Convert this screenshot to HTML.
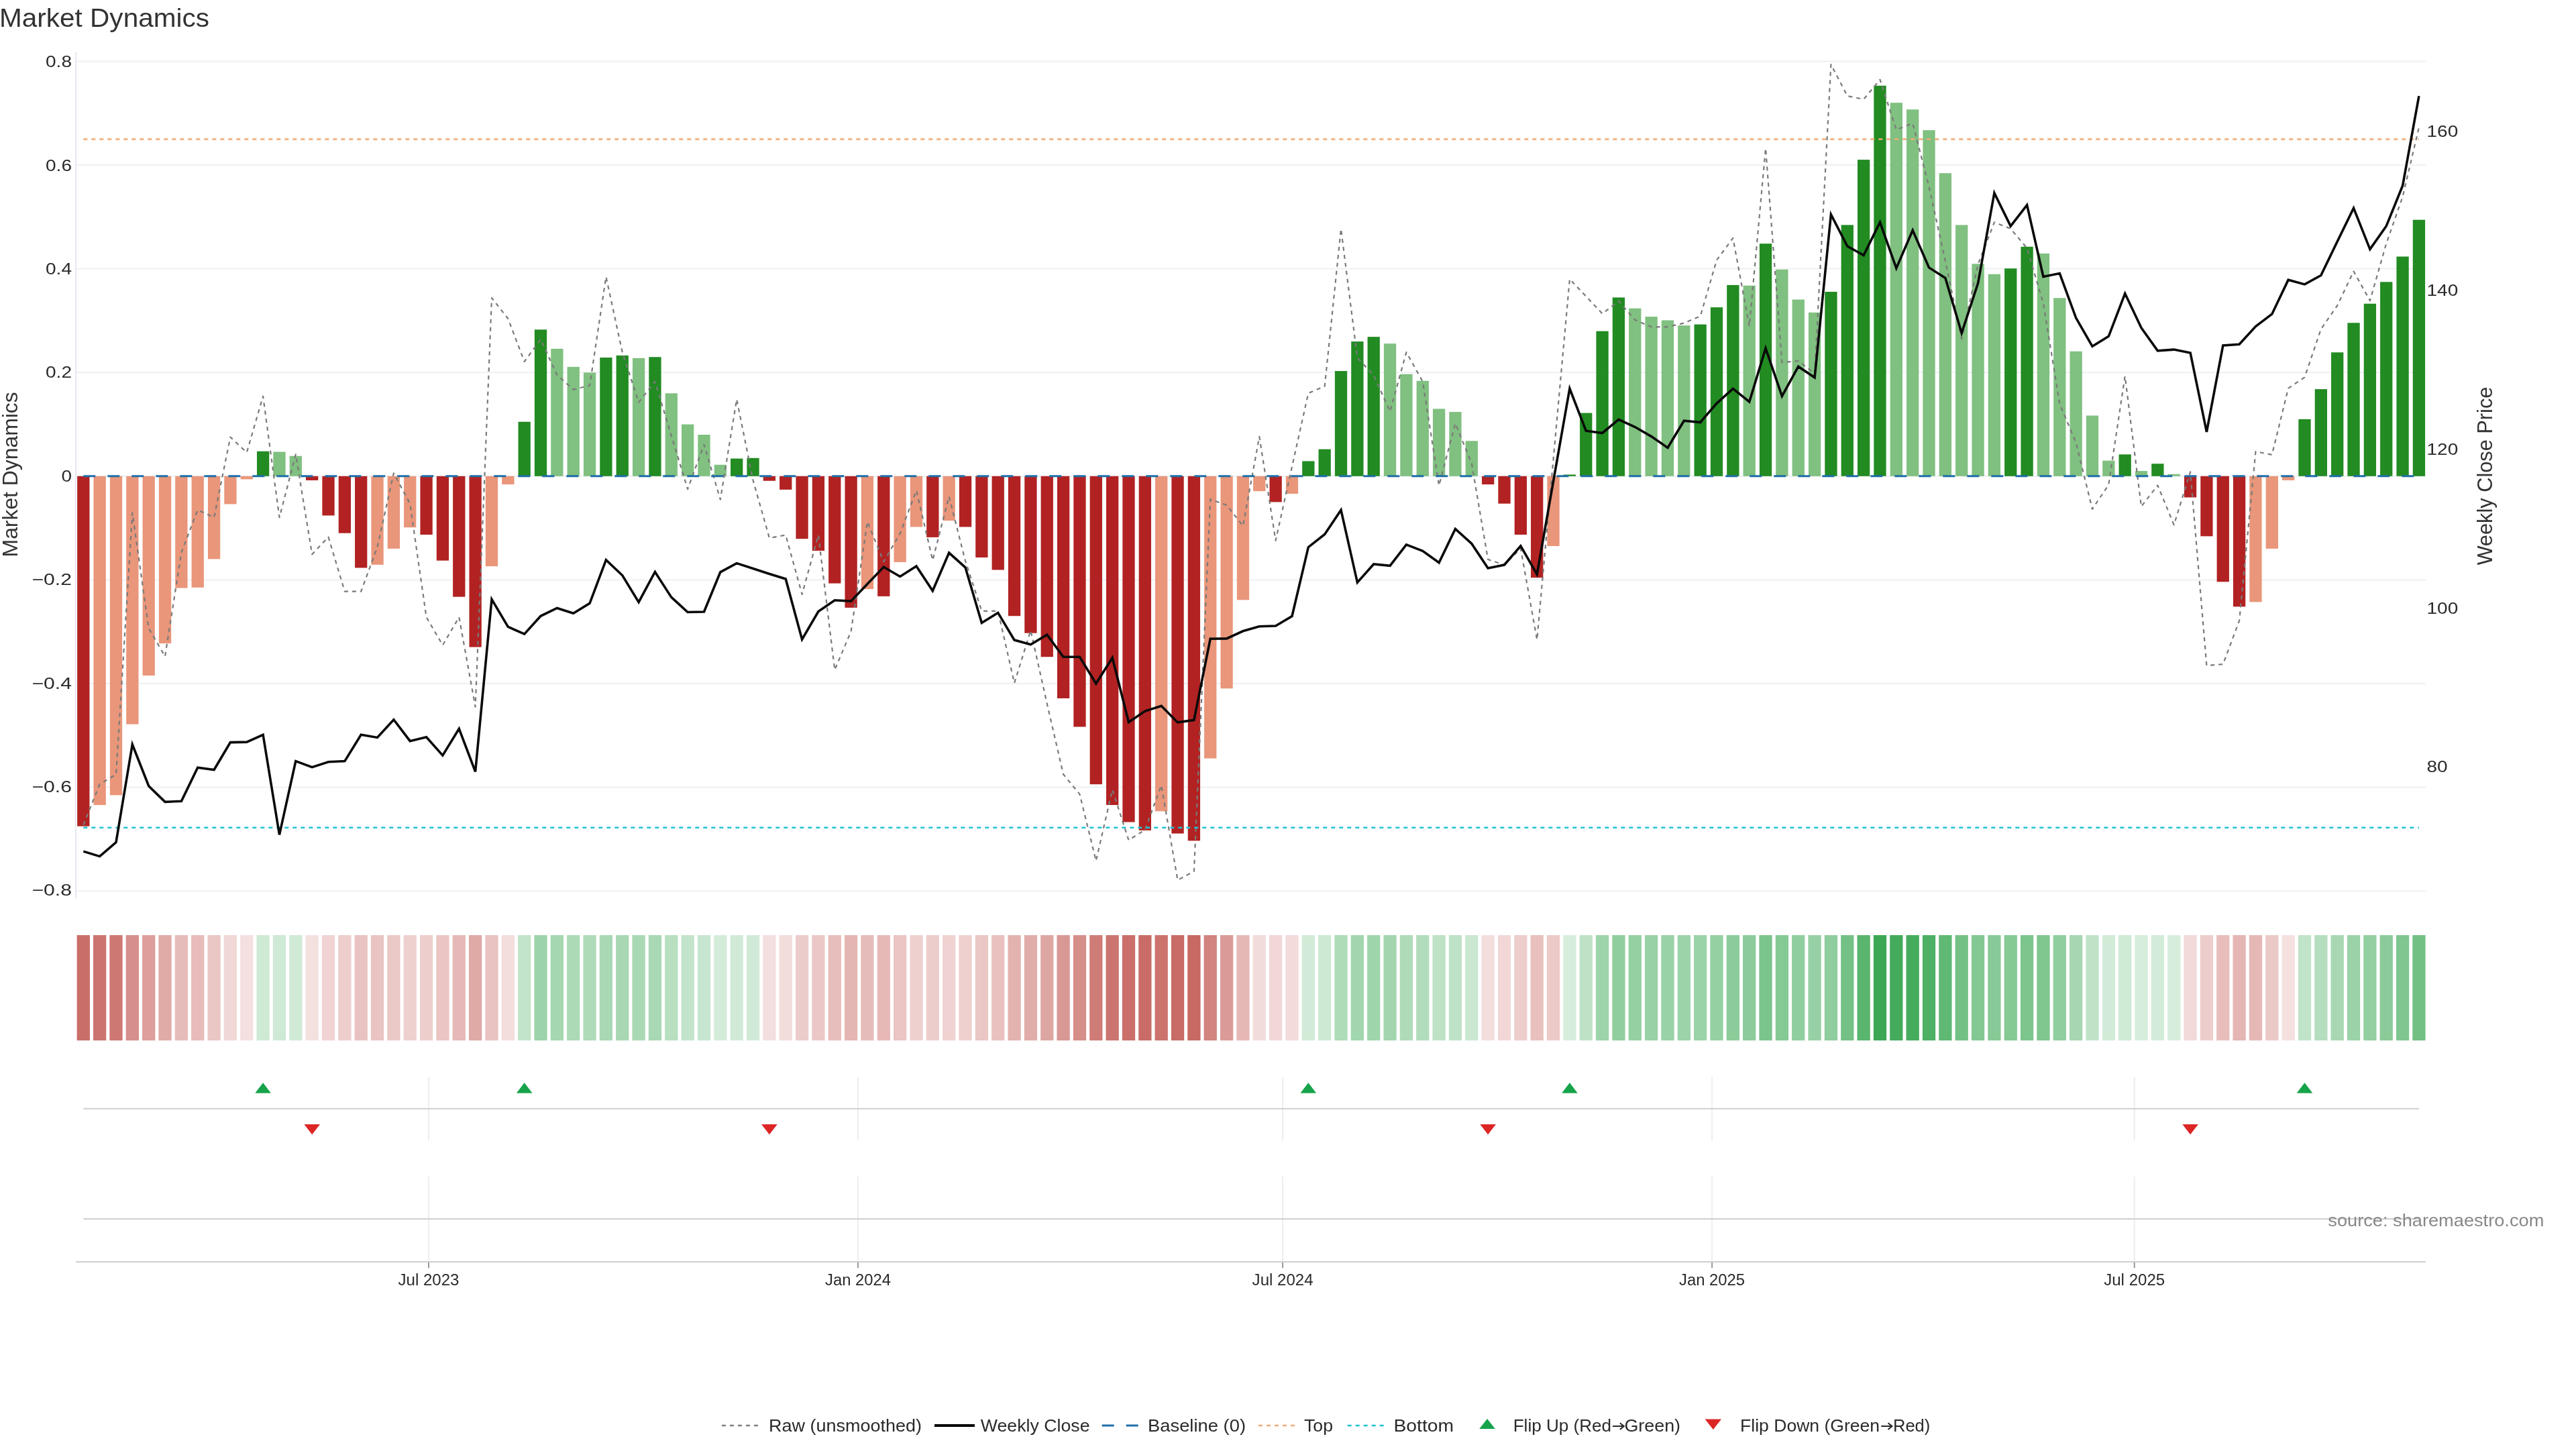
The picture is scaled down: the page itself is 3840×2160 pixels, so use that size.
<!DOCTYPE html><html><head><meta charset="utf-8"><title>Market Dynamics</title><style>html,body{margin:0;padding:0;background:#fff;}body{width:3840px;height:2160px;overflow:hidden;}svg{display:block;will-change:transform;}text{font-family:"Liberation Sans",sans-serif;}</style></head><body>
<svg width="3840" height="2160" viewBox="0 0 3840 2160">
<rect width="3840" height="2160" fill="#fff"/>
<line x1="113" x2="3616" y1="91.4" y2="91.4" stroke="#edf0f4" stroke-width="2"/>
<line x1="113" x2="3616" y1="246.0" y2="246.0" stroke="#edf0f4" stroke-width="2"/>
<line x1="113" x2="3616" y1="400.6" y2="400.6" stroke="#edf0f4" stroke-width="2"/>
<line x1="113" x2="3616" y1="555.2" y2="555.2" stroke="#edf0f4" stroke-width="2"/>
<line x1="113" x2="3616" y1="709.8" y2="709.8" stroke="#edf0f4" stroke-width="2"/>
<line x1="113" x2="3616" y1="864.4" y2="864.4" stroke="#edf0f4" stroke-width="2"/>
<line x1="113" x2="3616" y1="1019.0" y2="1019.0" stroke="#edf0f4" stroke-width="2"/>
<line x1="113" x2="3616" y1="1173.6" y2="1173.6" stroke="#edf0f4" stroke-width="2"/>
<line x1="113" x2="3616" y1="1328.2" y2="1328.2" stroke="#edf0f4" stroke-width="2"/>
<line x1="113" x2="113" y1="78" y2="1340" stroke="#e8e8f0" stroke-width="2"/>
<rect x="115.15" y="709.80" width="18.3" height="521.87" fill="#b22222"/>
<rect x="139.50" y="709.80" width="18.3" height="490.22" fill="#e9967a"/>
<rect x="163.84" y="709.80" width="18.3" height="475.55" fill="#e9967a"/>
<rect x="188.19" y="709.80" width="18.3" height="369.79" fill="#e9967a"/>
<rect x="212.54" y="709.80" width="18.3" height="297.22" fill="#e9967a"/>
<rect x="236.89" y="709.80" width="18.3" height="249.36" fill="#e9967a"/>
<rect x="261.23" y="709.80" width="18.3" height="166.75" fill="#e9967a"/>
<rect x="285.58" y="709.80" width="18.3" height="165.98" fill="#e9967a"/>
<rect x="309.93" y="709.80" width="18.3" height="123.52" fill="#e9967a"/>
<rect x="334.27" y="709.80" width="18.3" height="41.69" fill="#e9967a"/>
<rect x="358.62" y="709.80" width="18.3" height="4.63" fill="#e9967a"/>
<rect x="382.97" y="672.74" width="18.3" height="37.06" fill="#228b22"/>
<rect x="407.31" y="673.52" width="18.3" height="36.28" fill="#80c080"/>
<rect x="431.66" y="679.69" width="18.3" height="30.11" fill="#80c080"/>
<rect x="456.01" y="709.80" width="18.3" height="6.18" fill="#b22222"/>
<rect x="480.36" y="709.80" width="18.3" height="58.67" fill="#b22222"/>
<rect x="504.70" y="709.80" width="18.3" height="84.92" fill="#b22222"/>
<rect x="529.05" y="709.80" width="18.3" height="136.64" fill="#b22222"/>
<rect x="553.40" y="709.80" width="18.3" height="132.01" fill="#e9967a"/>
<rect x="577.74" y="709.80" width="18.3" height="108.08" fill="#e9967a"/>
<rect x="602.09" y="709.80" width="18.3" height="76.43" fill="#e9967a"/>
<rect x="626.44" y="709.80" width="18.3" height="87.24" fill="#b22222"/>
<rect x="650.78" y="709.80" width="18.3" height="125.84" fill="#b22222"/>
<rect x="675.13" y="709.80" width="18.3" height="179.88" fill="#b22222"/>
<rect x="699.48" y="709.80" width="18.3" height="254.76" fill="#b22222"/>
<rect x="723.83" y="709.80" width="18.3" height="134.33" fill="#e9967a"/>
<rect x="748.17" y="709.80" width="18.3" height="12.35" fill="#e9967a"/>
<rect x="772.52" y="628.74" width="18.3" height="81.06" fill="#228b22"/>
<rect x="796.87" y="491.32" width="18.3" height="218.48" fill="#228b22"/>
<rect x="821.21" y="519.89" width="18.3" height="189.91" fill="#80c080"/>
<rect x="845.56" y="546.91" width="18.3" height="162.89" fill="#80c080"/>
<rect x="869.91" y="555.40" width="18.3" height="154.40" fill="#80c080"/>
<rect x="894.25" y="533.01" width="18.3" height="176.79" fill="#228b22"/>
<rect x="918.60" y="529.92" width="18.3" height="179.88" fill="#228b22"/>
<rect x="942.95" y="533.78" width="18.3" height="176.02" fill="#80c080"/>
<rect x="967.30" y="532.24" width="18.3" height="177.56" fill="#228b22"/>
<rect x="991.64" y="586.28" width="18.3" height="123.52" fill="#80c080"/>
<rect x="1015.99" y="632.60" width="18.3" height="77.20" fill="#80c080"/>
<rect x="1040.34" y="648.04" width="18.3" height="61.76" fill="#80c080"/>
<rect x="1064.68" y="692.82" width="18.3" height="16.98" fill="#80c080"/>
<rect x="1089.03" y="683.55" width="18.3" height="26.25" fill="#228b22"/>
<rect x="1113.38" y="682.78" width="18.3" height="27.02" fill="#228b22"/>
<rect x="1137.72" y="709.80" width="18.3" height="6.95" fill="#b22222"/>
<rect x="1162.07" y="709.80" width="18.3" height="20.07" fill="#b22222"/>
<rect x="1186.42" y="709.80" width="18.3" height="93.41" fill="#b22222"/>
<rect x="1210.76" y="709.80" width="18.3" height="111.17" fill="#b22222"/>
<rect x="1235.11" y="709.80" width="18.3" height="159.80" fill="#b22222"/>
<rect x="1259.46" y="709.80" width="18.3" height="196.09" fill="#b22222"/>
<rect x="1283.81" y="709.80" width="18.3" height="168.30" fill="#e9967a"/>
<rect x="1308.15" y="709.80" width="18.3" height="179.10" fill="#b22222"/>
<rect x="1332.50" y="709.80" width="18.3" height="128.15" fill="#e9967a"/>
<rect x="1356.85" y="709.80" width="18.3" height="75.66" fill="#e9967a"/>
<rect x="1381.19" y="709.80" width="18.3" height="91.10" fill="#b22222"/>
<rect x="1405.54" y="709.80" width="18.3" height="66.39" fill="#e9967a"/>
<rect x="1429.89" y="709.80" width="18.3" height="75.66" fill="#b22222"/>
<rect x="1454.23" y="709.80" width="18.3" height="121.20" fill="#b22222"/>
<rect x="1478.58" y="709.80" width="18.3" height="139.73" fill="#b22222"/>
<rect x="1502.93" y="709.80" width="18.3" height="208.44" fill="#b22222"/>
<rect x="1527.28" y="709.80" width="18.3" height="233.92" fill="#b22222"/>
<rect x="1551.62" y="709.80" width="18.3" height="269.43" fill="#b22222"/>
<rect x="1575.97" y="709.80" width="18.3" height="331.19" fill="#b22222"/>
<rect x="1600.32" y="709.80" width="18.3" height="373.65" fill="#b22222"/>
<rect x="1624.66" y="709.80" width="18.3" height="459.34" fill="#b22222"/>
<rect x="1649.01" y="709.80" width="18.3" height="490.22" fill="#b22222"/>
<rect x="1673.36" y="709.80" width="18.3" height="515.70" fill="#b22222"/>
<rect x="1697.70" y="709.80" width="18.3" height="528.05" fill="#b22222"/>
<rect x="1722.05" y="709.80" width="18.3" height="499.48" fill="#e9967a"/>
<rect x="1746.40" y="709.80" width="18.3" height="532.68" fill="#b22222"/>
<rect x="1770.75" y="709.80" width="18.3" height="543.49" fill="#b22222"/>
<rect x="1795.09" y="709.80" width="18.3" height="420.74" fill="#e9967a"/>
<rect x="1819.44" y="709.80" width="18.3" height="316.52" fill="#e9967a"/>
<rect x="1843.79" y="709.80" width="18.3" height="184.51" fill="#e9967a"/>
<rect x="1868.13" y="709.80" width="18.3" height="22.39" fill="#e9967a"/>
<rect x="1892.48" y="709.80" width="18.3" height="38.60" fill="#b22222"/>
<rect x="1916.83" y="709.80" width="18.3" height="26.25" fill="#e9967a"/>
<rect x="1941.17" y="687.41" width="18.3" height="22.39" fill="#228b22"/>
<rect x="1965.52" y="669.66" width="18.3" height="40.14" fill="#228b22"/>
<rect x="1989.87" y="553.08" width="18.3" height="156.72" fill="#228b22"/>
<rect x="2014.22" y="509.08" width="18.3" height="200.72" fill="#228b22"/>
<rect x="2038.56" y="502.13" width="18.3" height="207.67" fill="#228b22"/>
<rect x="2062.91" y="512.17" width="18.3" height="197.63" fill="#80c080"/>
<rect x="2087.26" y="557.72" width="18.3" height="152.08" fill="#80c080"/>
<rect x="2111.60" y="567.75" width="18.3" height="142.05" fill="#80c080"/>
<rect x="2135.95" y="609.44" width="18.3" height="100.36" fill="#80c080"/>
<rect x="2160.30" y="614.07" width="18.3" height="95.73" fill="#80c080"/>
<rect x="2184.64" y="657.30" width="18.3" height="52.50" fill="#80c080"/>
<rect x="2208.99" y="709.80" width="18.3" height="12.35" fill="#b22222"/>
<rect x="2233.34" y="709.80" width="18.3" height="40.92" fill="#b22222"/>
<rect x="2257.69" y="709.80" width="18.3" height="87.24" fill="#b22222"/>
<rect x="2282.03" y="709.80" width="18.3" height="151.31" fill="#b22222"/>
<rect x="2306.38" y="709.80" width="18.3" height="104.22" fill="#e9967a"/>
<rect x="2330.73" y="707.48" width="18.3" height="2.32" fill="#228b22"/>
<rect x="2355.07" y="615.62" width="18.3" height="94.18" fill="#228b22"/>
<rect x="2379.42" y="493.64" width="18.3" height="216.16" fill="#228b22"/>
<rect x="2403.77" y="443.46" width="18.3" height="266.34" fill="#228b22"/>
<rect x="2428.12" y="459.67" width="18.3" height="250.13" fill="#80c080"/>
<rect x="2452.46" y="472.02" width="18.3" height="237.78" fill="#80c080"/>
<rect x="2476.81" y="477.43" width="18.3" height="232.37" fill="#80c080"/>
<rect x="2501.16" y="485.15" width="18.3" height="224.65" fill="#80c080"/>
<rect x="2525.50" y="483.60" width="18.3" height="226.20" fill="#228b22"/>
<rect x="2549.85" y="458.13" width="18.3" height="251.67" fill="#228b22"/>
<rect x="2574.20" y="424.93" width="18.3" height="284.87" fill="#228b22"/>
<rect x="2598.54" y="425.70" width="18.3" height="284.10" fill="#80c080"/>
<rect x="2622.89" y="363.17" width="18.3" height="346.63" fill="#228b22"/>
<rect x="2647.24" y="401.77" width="18.3" height="308.03" fill="#80c080"/>
<rect x="2671.59" y="446.55" width="18.3" height="263.25" fill="#80c080"/>
<rect x="2695.93" y="465.85" width="18.3" height="243.95" fill="#80c080"/>
<rect x="2720.28" y="434.97" width="18.3" height="274.83" fill="#228b22"/>
<rect x="2744.63" y="335.38" width="18.3" height="374.42" fill="#228b22"/>
<rect x="2768.97" y="238.11" width="18.3" height="471.69" fill="#228b22"/>
<rect x="2793.32" y="127.71" width="18.3" height="582.09" fill="#228b22"/>
<rect x="2817.67" y="153.19" width="18.3" height="556.61" fill="#80c080"/>
<rect x="2842.01" y="163.22" width="18.3" height="546.58" fill="#80c080"/>
<rect x="2866.36" y="194.10" width="18.3" height="515.70" fill="#80c080"/>
<rect x="2890.71" y="258.18" width="18.3" height="451.62" fill="#80c080"/>
<rect x="2915.06" y="335.38" width="18.3" height="374.42" fill="#80c080"/>
<rect x="2939.40" y="393.28" width="18.3" height="316.52" fill="#80c080"/>
<rect x="2963.75" y="408.72" width="18.3" height="301.08" fill="#80c080"/>
<rect x="2988.10" y="400.23" width="18.3" height="309.57" fill="#228b22"/>
<rect x="3012.44" y="367.80" width="18.3" height="342.00" fill="#228b22"/>
<rect x="3036.79" y="377.84" width="18.3" height="331.96" fill="#80c080"/>
<rect x="3061.14" y="444.23" width="18.3" height="265.57" fill="#80c080"/>
<rect x="3085.48" y="523.75" width="18.3" height="186.05" fill="#80c080"/>
<rect x="3109.83" y="619.48" width="18.3" height="90.32" fill="#80c080"/>
<rect x="3134.18" y="686.64" width="18.3" height="23.16" fill="#80c080"/>
<rect x="3158.53" y="677.38" width="18.3" height="32.42" fill="#228b22"/>
<rect x="3182.87" y="702.08" width="18.3" height="7.72" fill="#80c080"/>
<rect x="3207.22" y="691.27" width="18.3" height="18.53" fill="#228b22"/>
<rect x="3231.57" y="706.71" width="18.3" height="3.09" fill="#80c080"/>
<rect x="3255.91" y="709.80" width="18.3" height="31.65" fill="#b22222"/>
<rect x="3280.26" y="709.80" width="18.3" height="89.55" fill="#b22222"/>
<rect x="3304.61" y="709.80" width="18.3" height="157.49" fill="#b22222"/>
<rect x="3328.95" y="709.80" width="18.3" height="194.54" fill="#b22222"/>
<rect x="3353.30" y="709.80" width="18.3" height="187.60" fill="#e9967a"/>
<rect x="3377.65" y="709.80" width="18.3" height="108.08" fill="#e9967a"/>
<rect x="3402.00" y="709.80" width="18.3" height="6.18" fill="#e9967a"/>
<rect x="3426.34" y="624.88" width="18.3" height="84.92" fill="#228b22"/>
<rect x="3450.69" y="580.10" width="18.3" height="129.70" fill="#228b22"/>
<rect x="3475.04" y="525.29" width="18.3" height="184.51" fill="#228b22"/>
<rect x="3499.38" y="481.29" width="18.3" height="228.51" fill="#228b22"/>
<rect x="3523.73" y="452.72" width="18.3" height="257.08" fill="#228b22"/>
<rect x="3548.08" y="420.30" width="18.3" height="289.50" fill="#228b22"/>
<rect x="3572.42" y="382.47" width="18.3" height="327.33" fill="#228b22"/>
<rect x="3596.77" y="327.66" width="18.3" height="382.14" fill="#228b22"/>
<polyline points="124.3,1229.8 148.6,1169.0 173.0,1154.5 197.3,764.4 221.7,936.6 246.0,978.6 270.4,823.6 294.7,760.1 319.1,771.4 343.4,651.5 367.8,674.6 392.1,590.7 416.5,771.4 440.8,677.3 465.2,826.3 489.5,800.5 513.9,881.7 538.2,881.7 562.5,815.5 586.9,705.3 611.2,751.0 635.6,920.0 659.9,961.7 684.3,920.0 708.6,1053.7 733.0,444.1 757.3,475.0 781.7,539.0 806.0,505.8 830.4,559.2 854.7,580.6 879.1,574.7 903.4,412.6 927.8,525.4 952.1,599.6 976.4,568.7 1000.8,649.5 1025.1,729.1 1049.5,662.8 1073.8,744.6 1098.2,595.2 1122.5,715.8 1146.9,802.0 1171.2,797.6 1195.6,886.0 1219.9,797.6 1244.3,998.6 1268.6,941.2 1293.0,777.7 1317.3,837.3 1341.7,795.4 1366.0,731.3 1390.3,835.2 1414.7,740.1 1439.0,836.0 1463.4,910.8 1487.7,910.8 1512.1,1018.2 1536.4,939.9 1560.8,1049.1 1585.1,1154.3 1609.5,1183.9 1633.8,1283.3 1658.2,1177.2 1682.5,1252.4 1706.9,1236.9 1731.2,1170.6 1755.5,1312.0 1779.9,1298.8 1804.2,744.2 1828.6,753.0 1852.9,784.0 1877.3,650.9 1901.6,805.8 1926.0,695.5 1950.3,586.1 1974.7,575.8 1999.0,341.1 2023.4,533.6 2047.7,559.4 2072.1,613.4 2096.4,525.1 2120.8,568.8 2145.1,723.7 2169.4,631.2 2193.8,690.8 2218.1,834.0 2242.5,842.0 2266.8,817.6 2291.2,953.7 2315.5,685.0 2339.9,416.0 2364.2,441.7 2388.6,467.6 2412.9,448.8 2437.3,477.0 2461.6,487.3 2486.0,487.3 2510.3,481.6 2534.7,471.3 2559.0,387.8 2583.3,354.9 2607.7,486.3 2632.0,221.1 2656.4,540.3 2680.7,538.0 2705.1,556.7 2729.4,96.0 2753.8,143.0 2778.1,148.0 2802.5,118.7 2826.8,193.5 2851.2,183.9 2875.5,278.1 2899.9,389.2 2924.2,505.2 2948.6,394.1 2972.9,331.3 2997.2,340.9 3021.6,369.9 3045.9,452.0 3070.3,601.8 3094.6,659.8 3119.0,758.9 3143.3,722.6 3167.7,560.8 3192.0,755.1 3216.4,723.5 3240.7,782.4 3265.1,703.4 3289.4,992.1 3313.8,990.2 3338.1,925.2 3362.5,673.0 3386.8,677.9 3411.1,578.8 3435.5,562.4 3459.8,490.7 3484.2,455.5 3508.5,404.4 3532.9,448.2 3557.2,363.1 3581.6,293.2 3605.9,189.9" fill="none" stroke="#7a7a7a" stroke-width="2.2" stroke-dasharray="6 6" stroke-linejoin="round"/>
<line x1="124.3" x2="3605.9" y1="709.8" y2="709.8" stroke="#1f6fa8" stroke-width="3" stroke-dasharray="18 18"/>
<line x1="124.3" x2="3605.9" y1="207.4" y2="207.4" stroke="#f2ab74" stroke-width="2.5" stroke-dasharray="6 6"/>
<line x1="124.3" x2="3605.9" y1="1233.8" y2="1233.8" stroke="#1fc3d4" stroke-width="2.5" stroke-dasharray="6 6"/>
<polyline points="124.3,1269.1 148.6,1276.6 173.0,1255.6 197.3,1109.8 221.7,1171.7 246.0,1195.4 270.4,1194.3 294.7,1144.3 319.1,1147.5 343.4,1106.6 367.8,1106.1 392.1,1095.3 416.5,1244.3 440.8,1134.6 465.2,1143.7 489.5,1135.7 513.9,1134.6 538.2,1095.3 562.5,1099.4 586.9,1072.7 611.2,1104.7 635.6,1098.8 659.9,1126.1 684.3,1086.3 708.6,1150.4 733.0,893.4 757.3,934.4 781.7,945.1 806.0,918.3 830.4,906.5 854.7,914.2 879.1,899.4 903.4,834.7 927.8,857.8 952.1,897.6 976.4,852.5 1000.8,890.4 1025.1,912.5 1049.5,912.0 1073.8,852.8 1098.2,839.6 1122.5,847.5 1146.9,855.5 1171.2,863.0 1195.6,953.1 1219.9,911.6 1244.3,894.8 1268.6,896.1 1293.0,870.5 1317.3,845.3 1341.7,859.5 1366.0,844.0 1390.3,880.7 1414.7,824.1 1439.0,845.8 1463.4,928.5 1487.7,913.4 1512.1,954.1 1536.4,960.7 1560.8,946.1 1585.1,979.3 1609.5,979.3 1633.8,1019.0 1658.2,980.6 1682.5,1076.5 1706.9,1060.1 1731.2,1052.2 1755.5,1076.9 1779.9,1073.4 1804.2,952.3 1828.6,951.9 1852.9,940.8 1877.3,933.8 1901.6,933.0 1926.0,918.5 1950.3,815.7 1974.7,796.4 1999.0,760.3 2023.4,868.3 2047.7,841.0 2072.1,843.4 2096.4,811.9 2120.8,821.3 2145.1,838.7 2169.4,788.5 2193.8,810.5 2218.1,847.1 2242.5,842.0 2266.8,813.8 2291.2,856.1 2315.5,717.6 2339.9,579.3 2364.2,642.2 2388.6,645.5 2412.9,625.3 2437.3,636.5 2461.6,650.6 2486.0,667.5 2510.3,627.2 2534.7,629.5 2559.0,601.3 2583.3,579.3 2607.7,599.0 2632.0,519.2 2656.4,590.5 2680.7,546.4 2705.1,562.8 2729.4,319.7 2753.8,367.0 2778.1,380.5 2802.5,331.3 2826.8,399.9 2851.2,343.3 2875.5,398.9 2899.9,414.4 2924.2,496.5 2948.6,422.1 2972.9,287.8 2997.2,337.1 3021.6,305.6 3045.9,412.4 3070.3,407.6 3094.6,473.8 3119.0,516.3 3143.3,501.3 3167.7,437.6 3192.0,488.7 3216.4,522.9 3240.7,521.1 3265.1,526.0 3289.4,643.9 3313.8,515.0 3338.1,513.2 3362.5,486.5 3386.8,468.2 3411.1,417.2 3435.5,423.9 3459.8,410.5 3484.2,360.0 3508.5,310.2 3532.9,371.6 3557.2,337.0 3581.6,276.8 3605.9,143.1" fill="none" stroke="#0a0a0a" stroke-width="3.6" stroke-linejoin="miter"/>
<rect x="114.65" y="1394" width="19.3" height="157" fill="rgb(202, 110, 105)"/>
<rect x="139.00" y="1394" width="19.3" height="157" fill="rgb(204, 117, 112)"/>
<rect x="163.34" y="1394" width="19.3" height="157" fill="rgb(206, 120, 115)"/>
<rect x="187.69" y="1394" width="19.3" height="157" fill="rgb(214, 143, 140)"/>
<rect x="212.04" y="1394" width="19.3" height="157" fill="rgb(220, 159, 156)"/>
<rect x="236.39" y="1394" width="19.3" height="157" fill="rgb(224, 170, 167)"/>
<rect x="260.73" y="1394" width="19.3" height="157" fill="rgb(230, 188, 186)"/>
<rect x="285.08" y="1394" width="19.3" height="157" fill="rgb(231, 188, 186)"/>
<rect x="309.43" y="1394" width="19.3" height="157" fill="rgb(234, 198, 196)"/>
<rect x="333.77" y="1394" width="19.3" height="157" fill="rgb(241, 216, 214)"/>
<rect x="358.12" y="1394" width="19.3" height="157" fill="rgb(244, 224, 223)"/>
<rect x="382.47" y="1394" width="19.3" height="157" fill="rgb(206, 233, 212)"/>
<rect x="406.81" y="1394" width="19.3" height="157" fill="rgb(206, 233, 213)"/>
<rect x="431.16" y="1394" width="19.3" height="157" fill="rgb(208, 234, 214)"/>
<rect x="455.51" y="1394" width="19.3" height="157" fill="rgb(244, 224, 223)"/>
<rect x="479.86" y="1394" width="19.3" height="157" fill="rgb(239, 212, 211)"/>
<rect x="504.20" y="1394" width="19.3" height="157" fill="rgb(237, 206, 205)"/>
<rect x="528.55" y="1394" width="19.3" height="157" fill="rgb(233, 195, 193)"/>
<rect x="552.90" y="1394" width="19.3" height="157" fill="rgb(233, 196, 194)"/>
<rect x="577.24" y="1394" width="19.3" height="157" fill="rgb(235, 201, 199)"/>
<rect x="601.59" y="1394" width="19.3" height="157" fill="rgb(238, 208, 207)"/>
<rect x="625.94" y="1394" width="19.3" height="157" fill="rgb(237, 206, 204)"/>
<rect x="650.28" y="1394" width="19.3" height="157" fill="rgb(234, 197, 195)"/>
<rect x="674.63" y="1394" width="19.3" height="157" fill="rgb(229, 185, 183)"/>
<rect x="698.98" y="1394" width="19.3" height="157" fill="rgb(223, 169, 166)"/>
<rect x="723.33" y="1394" width="19.3" height="157" fill="rgb(233, 195, 193)"/>
<rect x="747.67" y="1394" width="19.3" height="157" fill="rgb(243, 222, 221)"/>
<rect x="772.02" y="1394" width="19.3" height="157" fill="rgb(194, 228, 202)"/>
<rect x="796.37" y="1394" width="19.3" height="157" fill="rgb(157, 211, 170)"/>
<rect x="820.71" y="1394" width="19.3" height="157" fill="rgb(165, 215, 177)"/>
<rect x="845.06" y="1394" width="19.3" height="157" fill="rgb(172, 218, 183)"/>
<rect x="869.41" y="1394" width="19.3" height="157" fill="rgb(175, 219, 185)"/>
<rect x="893.75" y="1394" width="19.3" height="157" fill="rgb(169, 216, 180)"/>
<rect x="918.10" y="1394" width="19.3" height="157" fill="rgb(168, 216, 179)"/>
<rect x="942.45" y="1394" width="19.3" height="157" fill="rgb(169, 217, 180)"/>
<rect x="966.80" y="1394" width="19.3" height="157" fill="rgb(168, 216, 180)"/>
<rect x="991.14" y="1394" width="19.3" height="157" fill="rgb(183, 223, 192)"/>
<rect x="1015.49" y="1394" width="19.3" height="157" fill="rgb(195, 228, 203)"/>
<rect x="1039.84" y="1394" width="19.3" height="157" fill="rgb(199, 230, 207)"/>
<rect x="1064.18" y="1394" width="19.3" height="157" fill="rgb(211, 236, 217)"/>
<rect x="1088.53" y="1394" width="19.3" height="157" fill="rgb(209, 234, 215)"/>
<rect x="1112.88" y="1394" width="19.3" height="157" fill="rgb(209, 234, 215)"/>
<rect x="1137.22" y="1394" width="19.3" height="157" fill="rgb(243, 223, 222)"/>
<rect x="1161.57" y="1394" width="19.3" height="157" fill="rgb(242, 221, 219)"/>
<rect x="1185.92" y="1394" width="19.3" height="157" fill="rgb(236, 204, 203)"/>
<rect x="1210.26" y="1394" width="19.3" height="157" fill="rgb(235, 200, 199)"/>
<rect x="1234.61" y="1394" width="19.3" height="157" fill="rgb(231, 190, 188)"/>
<rect x="1258.96" y="1394" width="19.3" height="157" fill="rgb(228, 182, 179)"/>
<rect x="1283.31" y="1394" width="19.3" height="157" fill="rgb(230, 188, 186)"/>
<rect x="1307.65" y="1394" width="19.3" height="157" fill="rgb(230, 185, 183)"/>
<rect x="1332.00" y="1394" width="19.3" height="157" fill="rgb(234, 197, 195)"/>
<rect x="1356.35" y="1394" width="19.3" height="157" fill="rgb(238, 208, 207)"/>
<rect x="1380.69" y="1394" width="19.3" height="157" fill="rgb(237, 205, 203)"/>
<rect x="1405.04" y="1394" width="19.3" height="157" fill="rgb(239, 210, 209)"/>
<rect x="1429.39" y="1394" width="19.3" height="157" fill="rgb(238, 208, 207)"/>
<rect x="1453.73" y="1394" width="19.3" height="157" fill="rgb(234, 198, 196)"/>
<rect x="1478.08" y="1394" width="19.3" height="157" fill="rgb(233, 194, 192)"/>
<rect x="1502.43" y="1394" width="19.3" height="157" fill="rgb(227, 179, 176)"/>
<rect x="1526.78" y="1394" width="19.3" height="157" fill="rgb(225, 173, 171)"/>
<rect x="1551.12" y="1394" width="19.3" height="157" fill="rgb(222, 166, 163)"/>
<rect x="1575.47" y="1394" width="19.3" height="157" fill="rgb(217, 152, 148)"/>
<rect x="1599.82" y="1394" width="19.3" height="157" fill="rgb(214, 142, 139)"/>
<rect x="1624.16" y="1394" width="19.3" height="157" fill="rgb(207, 124, 119)"/>
<rect x="1648.51" y="1394" width="19.3" height="157" fill="rgb(204, 117, 112)"/>
<rect x="1672.86" y="1394" width="19.3" height="157" fill="rgb(202, 111, 106)"/>
<rect x="1697.20" y="1394" width="19.3" height="157" fill="rgb(201, 108, 104)"/>
<rect x="1721.55" y="1394" width="19.3" height="157" fill="rgb(204, 115, 110)"/>
<rect x="1745.90" y="1394" width="19.3" height="157" fill="rgb(201, 107, 102)"/>
<rect x="1770.25" y="1394" width="19.3" height="157" fill="rgb(200, 105, 100)"/>
<rect x="1794.59" y="1394" width="19.3" height="157" fill="rgb(210, 132, 128)"/>
<rect x="1818.94" y="1394" width="19.3" height="157" fill="rgb(218, 155, 152)"/>
<rect x="1843.29" y="1394" width="19.3" height="157" fill="rgb(229, 184, 182)"/>
<rect x="1867.63" y="1394" width="19.3" height="157" fill="rgb(242, 220, 219)"/>
<rect x="1891.98" y="1394" width="19.3" height="157" fill="rgb(241, 216, 215)"/>
<rect x="1916.33" y="1394" width="19.3" height="157" fill="rgb(242, 219, 218)"/>
<rect x="1940.67" y="1394" width="19.3" height="157" fill="rgb(210, 235, 216)"/>
<rect x="1965.02" y="1394" width="19.3" height="157" fill="rgb(205, 233, 212)"/>
<rect x="1989.37" y="1394" width="19.3" height="157" fill="rgb(174, 219, 184)"/>
<rect x="2013.72" y="1394" width="19.3" height="157" fill="rgb(162, 214, 174)"/>
<rect x="2038.06" y="1394" width="19.3" height="157" fill="rgb(160, 213, 172)"/>
<rect x="2062.41" y="1394" width="19.3" height="157" fill="rgb(163, 214, 175)"/>
<rect x="2086.76" y="1394" width="19.3" height="157" fill="rgb(175, 219, 185)"/>
<rect x="2111.10" y="1394" width="19.3" height="157" fill="rgb(178, 221, 188)"/>
<rect x="2135.45" y="1394" width="19.3" height="157" fill="rgb(189, 226, 198)"/>
<rect x="2159.80" y="1394" width="19.3" height="157" fill="rgb(190, 226, 199)"/>
<rect x="2184.14" y="1394" width="19.3" height="157" fill="rgb(202, 231, 209)"/>
<rect x="2208.49" y="1394" width="19.3" height="157" fill="rgb(243, 222, 221)"/>
<rect x="2232.84" y="1394" width="19.3" height="157" fill="rgb(241, 216, 215)"/>
<rect x="2257.19" y="1394" width="19.3" height="157" fill="rgb(237, 206, 204)"/>
<rect x="2281.53" y="1394" width="19.3" height="157" fill="rgb(232, 192, 189)"/>
<rect x="2305.88" y="1394" width="19.3" height="157" fill="rgb(236, 202, 200)"/>
<rect x="2330.23" y="1394" width="19.3" height="157" fill="rgb(215, 237, 220)"/>
<rect x="2354.57" y="1394" width="19.3" height="157" fill="rgb(191, 226, 199)"/>
<rect x="2378.92" y="1394" width="19.3" height="157" fill="rgb(158, 212, 170)"/>
<rect x="2403.27" y="1394" width="19.3" height="157" fill="rgb(145, 206, 159)"/>
<rect x="2427.62" y="1394" width="19.3" height="157" fill="rgb(149, 208, 163)"/>
<rect x="2451.96" y="1394" width="19.3" height="157" fill="rgb(152, 209, 165)"/>
<rect x="2476.31" y="1394" width="19.3" height="157" fill="rgb(154, 210, 167)"/>
<rect x="2500.66" y="1394" width="19.3" height="157" fill="rgb(156, 211, 169)"/>
<rect x="2525.00" y="1394" width="19.3" height="157" fill="rgb(155, 211, 168)"/>
<rect x="2549.35" y="1394" width="19.3" height="157" fill="rgb(149, 208, 162)"/>
<rect x="2573.70" y="1394" width="19.3" height="157" fill="rgb(140, 204, 154)"/>
<rect x="2598.04" y="1394" width="19.3" height="157" fill="rgb(140, 204, 155)"/>
<rect x="2622.39" y="1394" width="19.3" height="157" fill="rgb(123, 196, 140)"/>
<rect x="2646.74" y="1394" width="19.3" height="157" fill="rgb(133, 201, 149)"/>
<rect x="2671.09" y="1394" width="19.3" height="157" fill="rgb(145, 206, 159)"/>
<rect x="2695.43" y="1394" width="19.3" height="157" fill="rgb(151, 208, 164)"/>
<rect x="2719.78" y="1394" width="19.3" height="157" fill="rgb(142, 205, 157)"/>
<rect x="2744.13" y="1394" width="19.3" height="157" fill="rgb(116, 193, 134)"/>
<rect x="2768.47" y="1394" width="19.3" height="157" fill="rgb(90, 181, 111)"/>
<rect x="2792.82" y="1394" width="19.3" height="157" fill="rgb(60, 168, 85)"/>
<rect x="2817.17" y="1394" width="19.3" height="157" fill="rgb(67, 171, 91)"/>
<rect x="2841.51" y="1394" width="19.3" height="157" fill="rgb(70, 172, 93)"/>
<rect x="2865.86" y="1394" width="19.3" height="157" fill="rgb(78, 176, 101)"/>
<rect x="2890.21" y="1394" width="19.3" height="157" fill="rgb(95, 184, 115)"/>
<rect x="2914.56" y="1394" width="19.3" height="157" fill="rgb(116, 193, 134)"/>
<rect x="2938.90" y="1394" width="19.3" height="157" fill="rgb(131, 200, 147)"/>
<rect x="2963.25" y="1394" width="19.3" height="157" fill="rgb(135, 202, 151)"/>
<rect x="2987.60" y="1394" width="19.3" height="157" fill="rgb(133, 201, 149)"/>
<rect x="3011.94" y="1394" width="19.3" height="157" fill="rgb(124, 197, 141)"/>
<rect x="3036.29" y="1394" width="19.3" height="157" fill="rgb(127, 198, 143)"/>
<rect x="3060.64" y="1394" width="19.3" height="157" fill="rgb(145, 206, 159)"/>
<rect x="3084.98" y="1394" width="19.3" height="157" fill="rgb(166, 215, 178)"/>
<rect x="3109.33" y="1394" width="19.3" height="157" fill="rgb(192, 227, 200)"/>
<rect x="3133.68" y="1394" width="19.3" height="157" fill="rgb(210, 235, 216)"/>
<rect x="3158.03" y="1394" width="19.3" height="157" fill="rgb(207, 234, 213)"/>
<rect x="3182.37" y="1394" width="19.3" height="157" fill="rgb(214, 237, 219)"/>
<rect x="3206.72" y="1394" width="19.3" height="157" fill="rgb(211, 235, 217)"/>
<rect x="3231.07" y="1394" width="19.3" height="157" fill="rgb(215, 237, 220)"/>
<rect x="3255.41" y="1394" width="19.3" height="157" fill="rgb(241, 218, 217)"/>
<rect x="3279.76" y="1394" width="19.3" height="157" fill="rgb(237, 205, 204)"/>
<rect x="3304.11" y="1394" width="19.3" height="157" fill="rgb(231, 190, 188)"/>
<rect x="3328.45" y="1394" width="19.3" height="157" fill="rgb(228, 182, 180)"/>
<rect x="3352.80" y="1394" width="19.3" height="157" fill="rgb(229, 184, 181)"/>
<rect x="3377.15" y="1394" width="19.3" height="157" fill="rgb(235, 201, 199)"/>
<rect x="3401.50" y="1394" width="19.3" height="157" fill="rgb(244, 224, 223)"/>
<rect x="3425.84" y="1394" width="19.3" height="157" fill="rgb(193, 227, 201)"/>
<rect x="3450.19" y="1394" width="19.3" height="157" fill="rgb(181, 222, 191)"/>
<rect x="3474.54" y="1394" width="19.3" height="157" fill="rgb(167, 216, 178)"/>
<rect x="3498.88" y="1394" width="19.3" height="157" fill="rgb(155, 210, 168)"/>
<rect x="3523.23" y="1394" width="19.3" height="157" fill="rgb(147, 207, 161)"/>
<rect x="3547.58" y="1394" width="19.3" height="157" fill="rgb(138, 203, 153)"/>
<rect x="3571.92" y="1394" width="19.3" height="157" fill="rgb(128, 198, 145)"/>
<rect x="3596.27" y="1394" width="19.3" height="157" fill="rgb(114, 192, 132)"/>
<line x1="639.0" x2="639.0" y1="1606" y2="1700" stroke="#eeeeee" stroke-width="2"/>
<line x1="639.0" x2="639.0" y1="1754" y2="1880" stroke="#eeeeee" stroke-width="2"/>
<line x1="1279.0" x2="1279.0" y1="1606" y2="1700" stroke="#eeeeee" stroke-width="2"/>
<line x1="1279.0" x2="1279.0" y1="1754" y2="1880" stroke="#eeeeee" stroke-width="2"/>
<line x1="1912.1" x2="1912.1" y1="1606" y2="1700" stroke="#eeeeee" stroke-width="2"/>
<line x1="1912.1" x2="1912.1" y1="1754" y2="1880" stroke="#eeeeee" stroke-width="2"/>
<line x1="2552.1" x2="2552.1" y1="1606" y2="1700" stroke="#eeeeee" stroke-width="2"/>
<line x1="2552.1" x2="2552.1" y1="1754" y2="1880" stroke="#eeeeee" stroke-width="2"/>
<line x1="3181.7" x2="3181.7" y1="1606" y2="1700" stroke="#eeeeee" stroke-width="2"/>
<line x1="3181.7" x2="3181.7" y1="1754" y2="1880" stroke="#eeeeee" stroke-width="2"/>
<line x1="124.3" x2="3605.9" y1="1652.8" y2="1652.8" stroke="#cdd0d2" stroke-width="2"/>
<line x1="124.3" x2="3605.9" y1="1816.9" y2="1816.9" stroke="#cdd0d2" stroke-width="2"/>
<path d="M380.3,1629.4 L392.1,1614 L403.9,1629.4 Z" fill="#16a34a"/>
<path d="M769.9,1629.4 L781.7,1614 L793.5,1629.4 Z" fill="#16a34a"/>
<path d="M1938.5,1629.4 L1950.3,1614 L1962.1,1629.4 Z" fill="#16a34a"/>
<path d="M2328.1,1629.4 L2339.9,1614 L2351.7,1629.4 Z" fill="#16a34a"/>
<path d="M3423.7,1629.4 L3435.5,1614 L3447.3,1629.4 Z" fill="#16a34a"/>
<path d="M453.4,1676 L477.0,1676 L465.2,1691.3 Z" fill="#dc2626"/>
<path d="M1135.1,1676 L1158.7,1676 L1146.9,1691.3 Z" fill="#dc2626"/>
<path d="M2206.3,1676 L2229.9,1676 L2218.1,1691.3 Z" fill="#dc2626"/>
<path d="M3253.3,1676 L3276.9,1676 L3265.1,1691.3 Z" fill="#dc2626"/>
<line x1="113" x2="3616" y1="1881" y2="1881" stroke="#cdd0d0" stroke-width="2"/>
<line x1="639.0" x2="639.0" y1="1882" y2="1890" stroke="#999" stroke-width="2"/>
<text x="639.0" y="1916" font-size="23" fill="#2a2a2a" text-anchor="middle" textLength="91" lengthAdjust="spacingAndGlyphs">Jul 2023</text>
<line x1="1279.0" x2="1279.0" y1="1882" y2="1890" stroke="#999" stroke-width="2"/>
<text x="1279.0" y="1916" font-size="23" fill="#2a2a2a" text-anchor="middle" textLength="98" lengthAdjust="spacingAndGlyphs">Jan 2024</text>
<line x1="1912.1" x2="1912.1" y1="1882" y2="1890" stroke="#999" stroke-width="2"/>
<text x="1912.1" y="1916" font-size="23" fill="#2a2a2a" text-anchor="middle" textLength="91" lengthAdjust="spacingAndGlyphs">Jul 2024</text>
<line x1="2552.1" x2="2552.1" y1="1882" y2="1890" stroke="#999" stroke-width="2"/>
<text x="2552.1" y="1916" font-size="23" fill="#2a2a2a" text-anchor="middle" textLength="98" lengthAdjust="spacingAndGlyphs">Jan 2025</text>
<line x1="3181.7" x2="3181.7" y1="1882" y2="1890" stroke="#999" stroke-width="2"/>
<text x="3181.7" y="1916" font-size="23" fill="#2a2a2a" text-anchor="middle" textLength="91" lengthAdjust="spacingAndGlyphs">Jul 2025</text>
<text x="107" y="100.2" font-size="24" fill="#2a2a2a" text-anchor="end" textLength="39.0" lengthAdjust="spacingAndGlyphs">0.8</text>
<text x="107" y="254.6" font-size="24" fill="#2a2a2a" text-anchor="end" textLength="39.0" lengthAdjust="spacingAndGlyphs">0.6</text>
<text x="107" y="409.0" font-size="24" fill="#2a2a2a" text-anchor="end" textLength="39.0" lengthAdjust="spacingAndGlyphs">0.4</text>
<text x="107" y="563.4" font-size="24" fill="#2a2a2a" text-anchor="end" textLength="39.0" lengthAdjust="spacingAndGlyphs">0.2</text>
<text x="107" y="717.8" font-size="24" fill="#2a2a2a" text-anchor="end" textLength="15.6" lengthAdjust="spacingAndGlyphs">0</text>
<text x="107" y="872.2" font-size="24" fill="#2a2a2a" text-anchor="end" textLength="59.5" lengthAdjust="spacingAndGlyphs">−0.2</text>
<text x="107" y="1026.6" font-size="24" fill="#2a2a2a" text-anchor="end" textLength="59.5" lengthAdjust="spacingAndGlyphs">−0.4</text>
<text x="107" y="1181.0" font-size="24" fill="#2a2a2a" text-anchor="end" textLength="59.5" lengthAdjust="spacingAndGlyphs">−0.6</text>
<text x="107" y="1335.4" font-size="24" fill="#2a2a2a" text-anchor="end" textLength="59.5" lengthAdjust="spacingAndGlyphs">−0.8</text>
<text x="3617.5" y="203.9" font-size="24" fill="#2a2a2a" textLength="46.7" lengthAdjust="spacingAndGlyphs">160</text>
<text x="3617.5" y="440.8" font-size="24" fill="#2a2a2a" textLength="46.7" lengthAdjust="spacingAndGlyphs">140</text>
<text x="3617.5" y="677.6" font-size="24" fill="#2a2a2a" textLength="46.7" lengthAdjust="spacingAndGlyphs">120</text>
<text x="3617.5" y="914.5" font-size="24" fill="#2a2a2a" textLength="46.7" lengthAdjust="spacingAndGlyphs">100</text>
<text x="3617.5" y="1151.3" font-size="24" fill="#2a2a2a" textLength="31.2" lengthAdjust="spacingAndGlyphs">80</text>
<text x="-1" y="40" font-size="38" fill="#333" textLength="313" lengthAdjust="spacingAndGlyphs">Market Dynamics</text>
<text transform="translate(26,707.4) rotate(-90)" font-size="31" fill="#333" text-anchor="middle" textLength="246" lengthAdjust="spacingAndGlyphs">Market Dynamics</text>
<text transform="translate(3714.6,709.6) rotate(-90)" font-size="31" fill="#333" text-anchor="middle" textLength="266" lengthAdjust="spacingAndGlyphs">Weekly Close Price</text>
<text x="3470.3" y="1827.8" font-size="25" fill="#888" textLength="322" lengthAdjust="spacingAndGlyphs">source: sharemaestro.com</text>
<line x1="1075.9" x2="1130" y1="2125" y2="2125" stroke="#808080" stroke-width="2.5" stroke-dasharray="6 6"/>
<line x1="1393" x2="1453" y1="2125" y2="2125" stroke="#000" stroke-width="4"/>
<line x1="1642.7" x2="1697" y1="2125" y2="2125" stroke="#1f6fa8" stroke-width="3" stroke-dasharray="18 18"/>
<line x1="1876" x2="1930.5" y1="2125" y2="2125" stroke="#f2ab74" stroke-width="2.5" stroke-dasharray="6 6"/>
<line x1="2008.7" x2="2063" y1="2125" y2="2125" stroke="#1fc3d4" stroke-width="2.5" stroke-dasharray="6 6"/>
<path d="M2205.2,2130 L2217,2115 L2228.8,2130 Z" fill="#16a34a"/>
<path d="M2541.6,2115.5 L2566,2115.5 L2553.8,2131 Z" fill="#dc2626"/>
<path d="M2403.9,2126.1 H2419.8 M2414.8,2121.3 L2420.8,2126.1 L2414.8,2130.9" fill="none" stroke="#2a2a2a" stroke-width="2"/>
<path d="M2804.2,2126.1 H2819.5 M2814.5,2121.3 L2820.5,2126.1 L2814.5,2130.9" fill="none" stroke="#2a2a2a" stroke-width="2"/>
<text x="1146.0" y="2134" font-size="26" fill="#2a2a2a" textLength="228.0" lengthAdjust="spacingAndGlyphs">Raw (unsmoothed)</text>
<text x="1461.8" y="2134" font-size="26" fill="#2a2a2a" textLength="162.7" lengthAdjust="spacingAndGlyphs">Weekly Close</text>
<text x="1711.0" y="2134" font-size="26" fill="#2a2a2a" textLength="146.0" lengthAdjust="spacingAndGlyphs">Baseline (0)</text>
<text x="1944.0" y="2134" font-size="26" fill="#2a2a2a" textLength="43.0" lengthAdjust="spacingAndGlyphs">Top</text>
<text x="2077.5" y="2134" font-size="26" fill="#2a2a2a" textLength="89.5" lengthAdjust="spacingAndGlyphs">Bottom</text>
<text x="2255.7" y="2134" font-size="26" fill="#2a2a2a" textLength="146.4" lengthAdjust="spacingAndGlyphs">Flip Up (Red</text>
<text x="2421.5" y="2134" font-size="26" fill="#2a2a2a" textLength="83.5" lengthAdjust="spacingAndGlyphs">Green)</text>
<text x="2594.1" y="2134" font-size="26" fill="#2a2a2a" textLength="208.0" lengthAdjust="spacingAndGlyphs">Flip Down (Green</text>
<text x="2822.0" y="2134" font-size="26" fill="#2a2a2a" textLength="55.2" lengthAdjust="spacingAndGlyphs">Red)</text>
</svg></body></html>
